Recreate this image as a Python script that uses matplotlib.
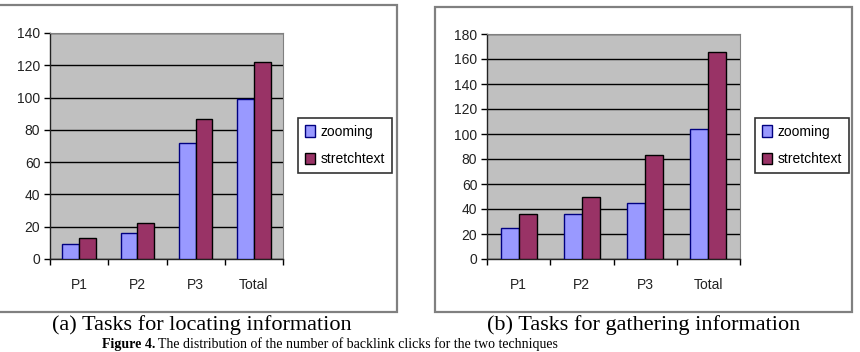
import numpy as np
import matplotlib
matplotlib.use("Agg")
import matplotlib.pyplot as plt
from matplotlib.patches import Rectangle

# data
categories = ["P1", "P2", "P3", "Total"]
series_names = ["zooming", "stretchtext"]
locating_zooming = [9, 16, 72, 99]
locating_stretch = [13, 22, 87, 122]
gathering_zooming = [25, 36, 45, 104]
gathering_stretch = [36, 50, 83, 166]
captions = ["(a) Tasks for locating information", "(b) Tasks for gathering information"]

W, H = 860, 352
fig = plt.figure(figsize=(W / 100, H / 100), dpi=100)
plt.rcParams['font.family'] = ['Liberation Sans', 'DejaVu Sans']


def px_rect(x0, y0, x1, y1):
    # pixel box (top-left origin) -> figure fraction [l, b, w, h]
    return [x0 / W, 1 - y1 / H, (x1 - x0) / W, (y1 - y0) / H]


def draw_panel(box, zooming, stretch, ymax, legend_xy):
    ax = fig.add_axes(px_rect(*box))
    x = np.arange(len(categories))
    bw = 1 / 3.5
    ax.set_facecolor("#c0c0c0")
    ax.bar(x - bw / 2, zooming, width=bw, color="#9999ff", edgecolor="#000080",
           linewidth=1, label=series_names[0], zorder=3)
    ax.bar(x + bw / 2, stretch, width=bw, color="#993366", edgecolor="#000000",
           linewidth=1, label=series_names[1], zorder=3)
    ax.set_xlim(-0.5, len(categories) - 0.5)
    ax.set_ylim(0, ymax)
    ax.set_yticks(np.arange(0, ymax + 1, 20))
    ax.yaxis.grid(True, color="black", linewidth=1.0, zorder=1)
    ax.set_axisbelow(True)
    ax.set_xticks(x)
    ax.set_xticklabels(categories, fontsize=10, color="#222222")
    ax.set_xticks(np.arange(-0.5, len(categories)), minor=True)
    ax.tick_params(axis="x", which="major", length=0, pad=14)
    ax.tick_params(axis="x", which="minor", length=4, width=1, direction="out")
    ax.tick_params(axis="y", length=4, width=1, direction="out", labelsize=10,
                   labelcolor="#222222", pad=3)
    for s in ["top", "right"]:
        ax.spines[s].set_color("#808080")
    for s in ["left", "bottom"]:
        ax.spines[s].set_color("#222222")
        ax.spines[s].set_linewidth(1.0)
    leg = fig.legend(*ax.get_legend_handles_labels(), loc="upper left",
                     bbox_to_anchor=(legend_xy[0] / W, 1 - legend_xy[1] / H),
                     fontsize=10, frameon=True, fancybox=False, handlelength=0.7,
                     handleheight=0.9, handletextpad=0.4, borderpad=0.5,
                     labelspacing=0.95, borderaxespad=0)
    leg.get_frame().set_edgecolor("black")
    leg.get_frame().set_linewidth(1.2)
    return ax


draw_panel((50, 33, 283, 259), locating_zooming, locating_stretch, 140, (298, 118))
draw_panel((487, 34, 740, 259), gathering_zooming, gathering_stretch, 180, (755, 118))

# outer chart frames
for x0, y0, x1, y1 in [(-3, 5, 397, 312), (435, 7, 852, 312)]:
    fig.patches.append(Rectangle((x0 / W, 1 - y1 / H), (x1 - x0) / W, (y1 - y0) / H,
                                 transform=fig.transFigure, fill=False,
                                 edgecolor="#808080", linewidth=1.6))

serif = ['Liberation Serif', 'DejaVu Serif']
fig.text(202 / W, 1 - 325 / H, captions[0], ha="center", va="center",
         fontsize=16, family=serif)
fig.text(644 / W, 1 - 325 / H, captions[1], ha="center", va="center",
         fontsize=16, family=serif)
fig.text(102 / W, 1 - 351 / H, "Figure 4.", ha="left", va="bottom",
         fontsize=10, family=serif, weight="bold")
fig.text(158 / W, 1 - 351 / H,
         "The distribution of the number of backlink clicks for the two techniques",
         ha="left", va="bottom", fontsize=10, family=serif)

fig.savefig("out.png", dpi=100)
